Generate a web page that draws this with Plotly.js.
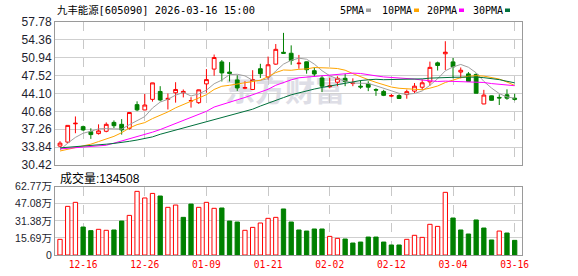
<!DOCTYPE html>
<html>
<head>
<meta charset="utf-8">
<script src="https://cdn.plot.ly/plotly-3.0.1.min.js"></script>
<style>html,body{margin:0;padding:0;background:#fff;}#chart{width:578px;height:276px;}</style>
</head>
<body>
<div id="chart"></div>
<script>
const dates = ['2025-12-11','2025-12-12','2025-12-15','2025-12-16','2025-12-17','2025-12-18','2025-12-19','2025-12-22','2025-12-23','2025-12-24',
'2025-12-25','2025-12-26','2025-12-29','2025-12-30','2025-12-31','2026-01-05','2026-01-06','2026-01-07','2026-01-08','2026-01-09',
'2026-01-12','2026-01-13','2026-01-14','2026-01-15','2026-01-16','2026-01-19','2026-01-20','2026-01-21','2026-01-22','2026-01-23',
'2026-01-26','2026-01-27','2026-01-28','2026-01-29','2026-01-30','2026-02-02','2026-02-03','2026-02-04','2026-02-05','2026-02-06',
'2026-02-09','2026-02-10','2026-02-11','2026-02-12','2026-02-13','2026-02-24','2026-02-25','2026-02-26','2026-02-27','2026-03-02',
'2026-03-03','2026-03-04','2026-03-05','2026-03-06','2026-03-09','2026-03-10','2026-03-11','2026-03-12','2026-03-13','2026-03-16'];

const open = [34.04,34.8,38.3,37.76,36.8,36.43,36.87,38.57,38.2,37.44,
41.97,40.95,42.98,44.49,42.97,44.24,44.24,42.65,42.35,45.94,
48.77,50.14,48.2,46.7,45.1,44.87,48.84,47.26,49.72,51.98,
51.8,49.8,50.16,48.46,47.07,45.4,46.26,47.01,46.0,45.5,
45.94,44.85,44.5,43.6,43.7,43.9,44.55,45.3,46.33,49.96,
51.7,50.15,48.2,47.85,47.75,42.1,43.65,43.35,43.85,43.2];
const high = [34.98,38.0,39.71,37.95,37.44,38.2,38.57,38.95,39.2,40.5,
42.6,44.0,46.15,45.5,44.1,46.26,44.87,43.4,44.85,48.77,
51.55,50.5,50.1,47.6,46.45,48.56,49.78,51.17,53.56,55.7,
53.31,51.48,50.2,49.09,47.52,47.1,47.39,47.83,47.0,46.6,
46.44,45.1,44.8,44.0,43.95,44.85,46.1,46.8,50.2,50.2,
54.1,50.9,49.08,48.2,47.95,44.8,43.7,43.95,44.9,44.05];
const low = [33.85,34.55,36.5,36.95,35.42,36.24,36.68,37.5,36.24,37.19,
40.72,40.9,42.54,42.6,41.05,42.35,43.35,41.4,42.1,44.24,
47.5,46.4,46.4,44.6,44.93,44.74,47.07,46.76,49.6,51.7,
49.6,48.84,47.89,47.26,44.37,45.1,45.5,45.5,45.5,45.0,
44.55,43.65,43.6,43.4,43.05,43.1,44.2,44.8,45.6,48.5,
48.6,47.0,47.0,46.35,44.15,42.05,42.75,41.9,42.9,42.75];
const close = [34.6,38.0,38.4,37.13,36.24,36.94,38.2,37.94,37.13,40.46,
40.97,41.9,46.13,42.86,43.16,44.87,44.5,42.75,44.8,46.76,
50.98,48.04,47.95,45.15,45.25,46.78,47.89,49.6,52.55,51.8,
50.41,49.9,48.65,47.83,45.5,45.55,47.01,46.38,46.1,45.35,
45.31,44.75,43.75,43.7,43.15,44.45,45.5,46.15,49.1,49.46,
52.0,49.2,48.55,46.4,44.15,43.8,42.8,43.25,43.2,43.0];

const ma5 = [33.3,34.6,35.7,36.5,36.87,37.34,37.38,37.29,37.29,38.13,
38.94,39.68,41.32,42.46,43.0,43.78,44.3,43.63,44.02,44.74,
45.96,46.67,47.71,47.78,47.47,46.63,46.6,46.93,48.41,49.72,
50.45,50.85,50.66,49.72,48.46,47.49,46.9,46.45,46.11,46.06,
46.03,45.58,45.05,44.57,44.13,43.96,44.11,44.59,45.67,46.93,
48.44,49.18,49.66,49.12,48.06,46.42,45.14,44.08,43.44,43.21];
const ma10 = [33.1,33.4,33.7,34.0,34.4,34.9,35.4,35.9,36.6,37.5,
38.14,38.53,39.3,39.88,40.57,41.36,41.99,42.47,43.24,43.87,
44.87,45.49,45.67,45.9,46.11,46.3,46.64,47.32,48.1,48.6,
48.54,48.73,48.8,49.07,49.09,48.97,48.88,48.56,47.9,47.26,
46.75,46.23,45.74,45.33,45.1,45.0,44.84,44.82,45.12,45.53,
46.2,46.65,47.13,47.4,47.5,47.43,47.16,46.87,46.29,45.64];
const ma20 = [33.5,33.6,33.7,33.8,33.9,34.0,34.2,34.6,35.0,35.4,
35.8,36.2,36.7,37.2,37.8,38.4,39.0,39.5,40.1,40.69,
41.51,42.01,42.49,42.89,43.34,43.83,44.31,44.9,45.67,46.23,
46.71,47.11,47.23,47.48,47.6,47.63,47.75,47.93,48.0,47.93,
47.65,47.48,47.27,47.2,47.09,46.98,46.86,46.68,46.51,46.4,
46.47,46.44,46.43,46.36,46.3,46.21,46.0,45.85,45.7,45.59];
const ma30 = [33.7,33.8,33.9,34.0,34.1,34.25,34.4,34.55,34.7,34.95,
35.2,35.5,35.8,36.3,36.7,37.1,37.5,37.9,38.3,38.7,
39.1,39.5,39.9,40.3,40.8,41.1,41.7,42.2,42.75,43.32,
43.85,44.25,44.59,44.95,45.26,45.54,45.83,46.11,46.41,46.58,
46.72,46.82,46.74,46.76,46.76,46.75,46.78,46.9,47.04,47.13,
47.16,47.2,47.22,47.26,47.23,47.13,46.96,46.75,46.44,46.14];

// volume in 万 shares
const volume = [14.4,44.7,48.4,25.7,22.4,23.6,22.7,23.0,31.2,36.4,
58.5,52.4,56.6,54.2,43.8,45.9,34.6,46.8,43.8,48.4,
42.9,43.2,31.2,30.3,22.7,25.4,29.4,33.7,34.6,42.3,
30.3,23.0,22.0,23.9,23.9,17.1,15.3,14.7,11.0,11.9,
16.5,16.5,11.9,9.2,9.2,14.4,18.1,16.2,28.2,26.3,
57.6,34.0,23.0,19.3,32.2,24.8,13.8,22.0,20.2,13.45];

const priceTicks = [30.42,33.84,37.26,40.68,44.10,47.52,50.94,54.36,57.78];
const priceTickText = ['30.42','33.84','37.26','40.68','44.10','47.52','50.94','54.36','57.78'];
const volTicks = [0,15.69,31.38,47.08,62.77];
const volTickText = ['0','15.69万','31.38万','47.08万','62.77万'];
const dateTicks = ['2025-12-16','2025-12-26','2026-01-09','2026-01-21','2026-02-02','2026-02-12','2026-03-04','2026-03-16'];
const dateTickText = ['12-16','12-26','01-09','01-21','02-02','02-12','03-04','03-16'];

const maNames = ['5PMA','10PMA','20PMA','30PMA'];
const titleText = '九丰能源[605090] 2026-03-16 15:00';
const volLabel = '成交量:134508';
const watermark = '东方财富';

const RED = '#ff0000', GREEN = '#008000';
const maColors = ['#a0a0a0','#ffa500','#ff00ff','#00703c'];

// pixel -> paper helpers (plot area: x 55..522, y 22..255)
const fx = px => (px - 55) / 467;
const fy = py => (255 - py) / 233;

// volume bar direction: close vs previous close
const volUp = close.map((c, i) => i === 0 ? true : c >= close[i - 1]);

const traces = [
  {
    type: 'candlestick', x: dates, open: open, high: high, low: low, close: close,
    xaxis: 'x', yaxis: 'y', whiskerwidth: 0, showlegend: false, hoverinfo: 'skip',
    increasing: { line: { color: RED, width: 1 }, fillcolor: '#ffffff' },
    decreasing: { line: { color: GREEN, width: 1 }, fillcolor: GREEN }
  }
];
[ma5, ma10, ma20, ma30].forEach((arr, k) => {
  traces.push({
    type: 'scatter', mode: 'lines', x: dates, y: arr, xaxis: 'x', yaxis: 'y',
    line: { color: maColors[k], width: 1 }, showlegend: false, hoverinfo: 'skip'
  });
});
traces.push({
  type: 'bar', x: dates, y: volume, xaxis: 'x2', yaxis: 'y2', width: 0.56,
  marker: {
    color: volUp.map(u => u ? '#ffffff' : GREEN),
    line: { color: volUp.map(u => u ? RED : GREEN), width: 1 }
  },
  showlegend: false, hoverinfo: 'skip'
});

const axisCommon = {
  showline: true, mirror: true, linecolor: '#9a9a9a', linewidth: 1,
  zeroline: false, ticks: '', fixedrange: true
};
const xRange = [-0.65, 59.95];

const annotations = [
  { xref: 'paper', yref: 'paper', x: fx(55), y: fy(10), xanchor: 'left', yanchor: 'middle',
    text: titleText, showarrow: false,
    font: { family: 'DejaVu Sans Mono, Noto Sans CJK SC', size: 10.4, color: '#000' } },
  { xref: 'paper', yref: 'paper', x: fx(58), y: fy(178), xanchor: 'left', yanchor: 'middle',
    text: volLabel, showarrow: false,
    font: { family: 'Liberation Sans, Noto Sans CJK SC', size: 12, color: '#000' } }
];
const legendX = [338, 380, 425, 471];
const shapes = [];
maNames.forEach((n, k) => {
  annotations.push({ xref: 'paper', yref: 'paper', x: fx(legendX[k]), y: fy(10), xanchor: 'left', yanchor: 'middle',
    text: n, showarrow: false,
    font: { family: 'DejaVu Sans Mono', size: 10, color: '#000' } });
  const sx = legendX[k] + n.length * 6 + 4;
  shapes.push({ type: 'rect', xref: 'paper', yref: 'paper',
    x0: fx(sx), x1: fx(sx + 5), y0: fy(12), y1: fy(8.5),
    fillcolor: maColors[k], line: { width: 0 } });
});
// watermark drawn below traces
shapes.push({ type: 'rect', xref: 'paper', yref: 'paper', layer: 'below',
  x0: fx(205), x1: fx(365), y0: fy(110), y1: fy(75),
  fillcolor: 'rgba(0,0,0,0)', line: { width: 0 },
  label: { text: watermark, font: { family: 'Noto Sans CJK SC', size: 30, color: '#dedee6', weight: 'bold' },
           textposition: 'middle center' } });

const layout = {
  width: 578, height: 276,
  margin: { l: 55, r: 56, t: 22, b: 21, pad: 0 },
  paper_bgcolor: '#ffffff', plot_bgcolor: '#ffffff',
  hovermode: false, showlegend: false, dragmode: false,
  xaxis: Object.assign({}, axisCommon, {
    type: 'category', range: xRange, anchor: 'y', domain: [0, 1],
    rangeslider: { visible: false },
    showticklabels: false, tickmode: 'array', tickvals: dateTicks, ticktext: dateTickText,
    showgrid: true, gridcolor: '#c8c8c8', griddash: 'dash', gridwidth: 1
  }),
  xaxis2: Object.assign({}, axisCommon, {
    type: 'category', range: xRange, anchor: 'y2', domain: [0, 1], matches: 'x',
    tickmode: 'array', tickvals: dateTicks, ticktext: dateTickText,
    showgrid: true, gridcolor: '#c8c8c8', griddash: 'dash', gridwidth: 1,
    tickfont: { family: 'DejaVu Sans Mono', size: 9.6, color: RED }
  }),
  yaxis: Object.assign({}, axisCommon, {
    domain: [fy(165), 1], range: [30.42, 57.78], anchor: 'x',
    tickmode: 'array', tickvals: priceTicks, ticktext: priceTickText,
    showgrid: true, gridcolor: '#cfcfcf', gridwidth: 1,
    tickfont: { family: 'Liberation Sans', size: 12, color: '#1e1e2e' }
  }),
  yaxis2: Object.assign({}, axisCommon, {
    domain: [0, fy(186.7)], range: [0, 62.77], anchor: 'x2',
    tickmode: 'array', tickvals: volTicks, ticktext: volTickText,
    showgrid: true, gridcolor: '#cfcfcf', gridwidth: 1,
    tickfont: { family: 'Liberation Sans, Noto Sans CJK SC', size: 10.5, color: '#1e1e2e' }
  }),
  annotations: annotations,
  shapes: shapes
};

Plotly.newPlot('chart', traces, layout, { staticPlot: true, displayModeBar: false });
</script>
</body>
</html>
